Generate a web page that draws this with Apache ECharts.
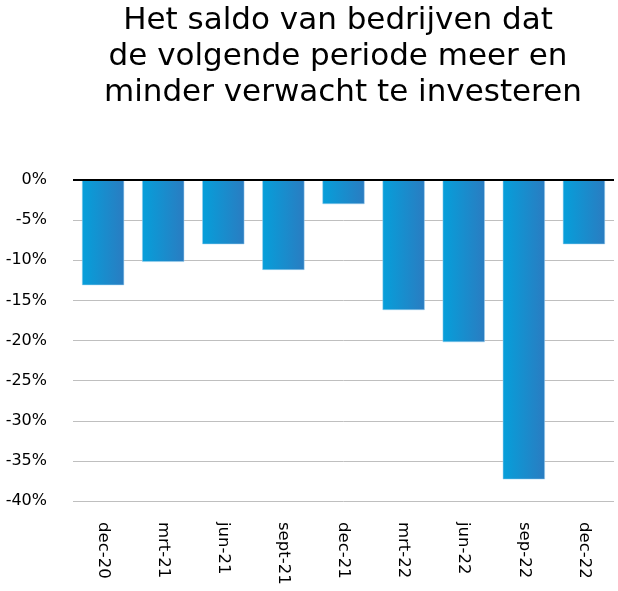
<!DOCTYPE html>
<html>
<head>
<meta charset="utf-8">
<script src="https://cdn.jsdelivr.net/npm/echarts@6/dist/echarts.min.js"></script>
<style>
  html, body { margin: 0; padding: 0; background: #fff; }
  #chart { width: 618px; height: 591px; }
</style>
</head>
<body>
<div id="chart"></div>
<script>
const categories = ['dec-20', 'mrt-21', 'jun-21', 'sept-21', 'dec-21', 'mrt-22', 'jun-22', 'sep-22', 'dec-22']
const saldo = [-13.1, -10.2, -8, -11.2, -3, -16.2, -20.2, -37.3, -8]   // procent
const titleLines = ['Het saldo van bedrijven dat', 'de volgende periode meer en', ' minder verwacht te investeren']

const chart = echarts.init(document.getElementById('chart'), null, { renderer: 'canvas' })

const option = {
  backgroundColor: '#ffffff',
  animation: false,
  textStyle: { fontFamily: 'DejaVu Sans' },
  title: {
    text: titleLines.join('\n'),
    left: 333,
    top: -2,
    textAlign: 'center',
    textStyle: {
      fontFamily: 'DejaVu Sans',
      fontSize: 31,
      fontWeight: 'normal',
      color: '#000',
      lineHeight: 36
    }
  },
  grid: {
    left: 73,
    right: 4,
    top: 180,
    bottom: 90,
    containLabel: false
  },
  xAxis: {
    type: 'category',
    position: 'bottom',
    data: categories,
    axisLine: { show: false },
    axisTick: { show: false },
    axisLabel: {
      rotate: -90,
      margin: 21,
      fontSize: 16.5,
      color: '#000'
    }
  },
  yAxis: {
    type: 'value',
    min: -40,
    max: 0,
    interval: 5,
    axisLine: { show: false },
    axisTick: { show: false },
    axisLabel: {
      formatter: v => v + '%',
      fontSize: 16,
      color: '#000',
      margin: 26
    },
    splitLine: { lineStyle: { color: '#bfbfbf', width: 1 } }
  },
  series: [{
    type: 'bar',
    data: saldo,
    barWidth: '70%',
    itemStyle: {
      color: new echarts.graphic.LinearGradient(0, 0, 1, 0, [
        { offset: 0, color: '#069fda' },
        { offset: 1, color: '#2a7cc1' }
      ]),
      borderColor: '#9fd0ee',
      borderWidth: 0.5
    },
    markLine: {
      silent: true,
      symbol: 'none',
      label: { show: false },
      lineStyle: { color: '#000', width: 2, type: 'solid' },
      data: [{ yAxis: 0 }]
    }
  }]
}

chart.setOption(option)
</script>
</body>
</html>
